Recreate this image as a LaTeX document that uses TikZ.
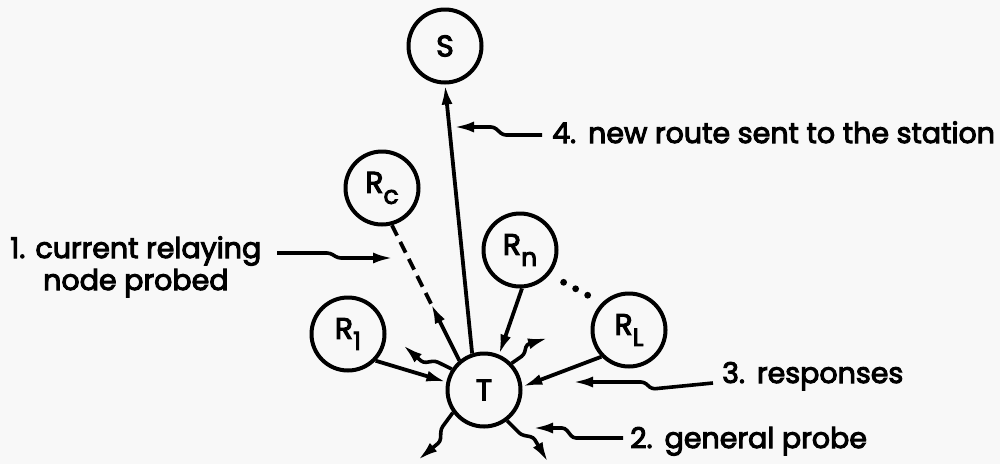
\documentclass[tikz,border=0pt]{standalone}
\usepackage{fontspec}
\setmainfont{Poppins}[FakeBold=3.5]
\usetikzlibrary{arrows.meta,calc}
\definecolor{paper}{RGB}{248,248,248}
\tikzset{
  stn/.style={circle,draw,line width=4pt,minimum size=73pt,inner sep=0pt,font=\fontsize{30}{30}\selectfont},
  lnk/.style={line width=3.8pt},
  tip/.style={-{Latex[length=20pt,width=11pt]}},
  lab/.style={anchor=base west,inner sep=0pt,font=\fontsize{28.5}{32}\selectfont},
  lead/.style={line width=3.6pt,rounded corners=3pt},
  dsh/.style={line width=3.8pt,dash pattern=on 12pt off 7pt},
}
\newcommand\sub[1]{\raisebox{-11pt}{\fontsize{25}{25}\selectfont #1}}
\newcommand\zig[2]{\draw[lead,tip] (#1) -- ($(#1)!0.34!(#2)$) -- ($(#1)!0.52!(#2)!7pt!90:(#2)$) -- (#2);}
\begin{document}
\begin{tikzpicture}[x=1pt,y=-1pt]
\useasboundingbox[fill=paper] (0,0) rectangle (1000,464);
% stations
\node[stn] (S) at (445,46) {S};
\node[stn] (Rc) at (382,188) {R\sub{c}};
\node[stn] (Rn) at (520,250) {R\sub{n}};
\node[stn] (R1) at (348,334) {R\sub{1}};
\node[stn] (RL) at (629,330) {R\sub{L}};
\node[stn] (T) at (484,390) {T};
% links
\draw[lnk,tip] (T.108) -- (S.south);
\draw[lnk,tip] (R1.-44) -- (T.168);
\draw[lnk,tip] (Rn.-87) -- (T.67);
\draw[lnk,tip] (RL.-136) -- (T.5);
\coordinate (mid) at ($(T.130)!0.42!(Rc.-75)$);
\draw[lnk,tip] (T.130) -- (mid);
\draw[dsh] (mid) -- (Rc.-75);
\foreach \f in {0.27,0.5,0.73}
  \fill ($(Rn.-40)!\f!(RL.135)$) circle (3.4);
% probes
\coordinate (wUL) at (403,345);
\coordinate (wUR) at (548,338);
\coordinate (wLL) at (418,460);
\coordinate (wLR) at (548,462);
\zig{T.147}{wUL}
\zig{T.44}{wUR}
\zig{T.216}{wLL}
\zig{T.-53}{wLR}
% labels
\node[lab] (lab1) at (10,258) {1. current relaying};
\node[lab] (lab1b) at (43,290) {node probed};
\node[lab] (lab4) at (552,143) {4.\hspace{12pt}new route sent to the station};
\node[lab] (lab3) at (722,383) {3.\hspace{12pt}responses};
\node[lab] (lab2) at (630,448) {2.\hspace{12pt}general probe};
% leaders
\coordinate (t1) at (393,258);
\coordinate (t4) at (454,127);
\coordinate (t3) at (573,382);
\coordinate (t2) at (533,428);
\draw[lead,tip] (277,253) -- (330,253) -- (338,258) -- (t1);
\draw[lead,tip] ([xshift=-10pt,yshift=8pt]lab4.base west) -- (503,135) -- (494,127) -- (t4);
\draw[lead,tip] ([xshift=-9pt]lab3.base west) -- (652,389) -- (644,382) -- (t3);
\draw[lead,tip] ([xshift=-7pt,yshift=10pt]lab2.base west) -- (573,438) -- (565,428) -- (t2);
\end{tikzpicture}
\end{document}
